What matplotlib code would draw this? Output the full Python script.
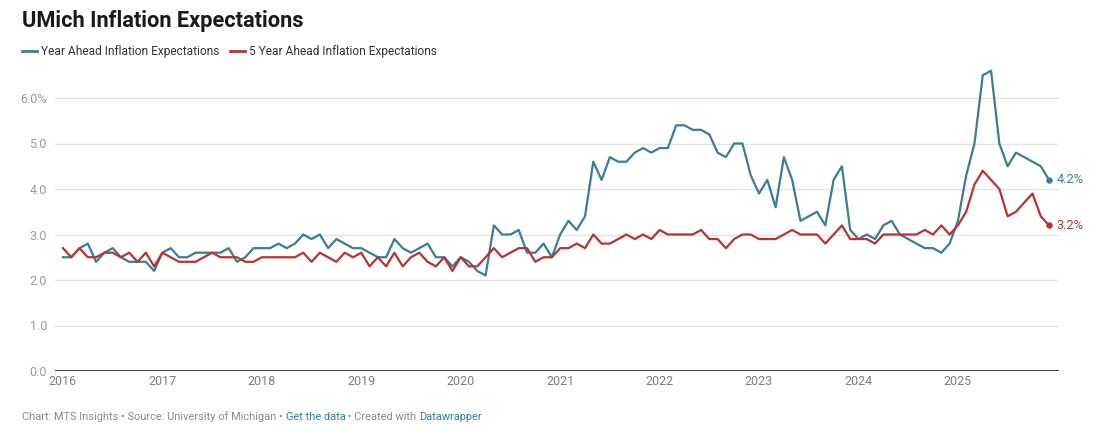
import matplotlib
matplotlib.use("Agg")
import matplotlib.pyplot as plt
from matplotlib.lines import Line2D
import numpy as np

W, H = 1102, 432

# ---------------- data ----------------
years = list(range(2016, 2026))
x_tick_labels = [str(y) for y in years]

year_ahead = [
    2.5, 2.5, 2.7, 2.8, 2.4, 2.6, 2.7, 2.5, 2.4, 2.4, 2.4, 2.2,   # 2016
    2.6, 2.7, 2.5, 2.5, 2.6, 2.6, 2.6, 2.6, 2.7, 2.4, 2.5, 2.7,   # 2017
    2.7, 2.7, 2.8, 2.7, 2.8, 3.0, 2.9, 3.0, 2.7, 2.9, 2.8, 2.7,   # 2018
    2.7, 2.6, 2.5, 2.5, 2.9, 2.7, 2.6, 2.7, 2.8, 2.5, 2.5, 2.3,   # 2019
    2.5, 2.4, 2.2, 2.1, 3.2, 3.0, 3.0, 3.1, 2.6, 2.6, 2.8, 2.5,   # 2020
    3.0, 3.3, 3.1, 3.4, 4.6, 4.2, 4.7, 4.6, 4.6, 4.8, 4.9, 4.8,   # 2021
    4.9, 4.9, 5.4, 5.4, 5.3, 5.3, 5.2, 4.8, 4.7, 5.0, 5.0, 4.3,   # 2022
    3.9, 4.2, 3.6, 4.7, 4.2, 3.3, 3.4, 3.5, 3.2, 4.2, 4.5, 3.1,   # 2023
    2.9, 3.0, 2.9, 3.2, 3.3, 3.0, 2.9, 2.8, 2.7, 2.7, 2.6, 2.8,   # 2024
    3.3, 4.3, 5.0, 6.5, 6.6, 5.0, 4.5, 4.8, 4.7, 4.6, 4.5, 4.2,   # 2025
]

five_year = [
    2.7, 2.5, 2.7, 2.5, 2.5, 2.6, 2.6, 2.5, 2.6, 2.4, 2.6, 2.3,   # 2016
    2.6, 2.5, 2.4, 2.4, 2.4, 2.5, 2.6, 2.5, 2.5, 2.5, 2.4, 2.4,   # 2017
    2.5, 2.5, 2.5, 2.5, 2.5, 2.6, 2.4, 2.6, 2.5, 2.4, 2.6, 2.5,   # 2018
    2.6, 2.3, 2.5, 2.3, 2.6, 2.3, 2.5, 2.6, 2.4, 2.3, 2.5, 2.2,   # 2019
    2.5, 2.3, 2.3, 2.5, 2.7, 2.5, 2.6, 2.7, 2.7, 2.4, 2.5, 2.5,   # 2020
    2.7, 2.7, 2.8, 2.7, 3.0, 2.8, 2.8, 2.9, 3.0, 2.9, 3.0, 2.9,   # 2021
    3.1, 3.0, 3.0, 3.0, 3.0, 3.1, 2.9, 2.9, 2.7, 2.9, 3.0, 3.0,   # 2022
    2.9, 2.9, 2.9, 3.0, 3.1, 3.0, 3.0, 3.0, 2.8, 3.0, 3.2, 2.9,   # 2023
    2.9, 2.9, 2.8, 3.0, 3.0, 3.0, 3.0, 3.0, 3.1, 3.0, 3.2, 3.0,   # 2024
    3.2, 3.5, 4.1, 4.4, 4.2, 4.0, 3.4, 3.5, 3.7, 3.9, 3.4, 3.2,   # 2025
]

series_names = ["Year Ahead Inflation Expectations",
                "5 Year Ahead Inflation Expectations"]
y_ticks = [0, 1, 2, 3, 4, 5, 6]
y_tick_labels = ["0.0", "1.0", "2.0", "3.0", "4.0", "5.0", "6.0%"]

title = "UMich Inflation Expectations"
footer_parts = ["Chart: MTS Insights \u2022 Source: University of Michigan \u2022 ",
                "Get the data", " \u2022 Created with ", "Datawrapper"]

# ---------------- style ----------------
BLUE = "#3a7d97"
RED = "#bb3230"
GRAY_TXT = "#999999"
FOOT_GRAY = "#8a8a8a"
LINK = "#2d7fa8"

plt.rcParams['font.family'] = ['Roboto', 'DejaVu Sans']

fig = plt.figure(figsize=(W / 100, H / 100), dpi=100)


def fx(px):
    return px / W


def fy(py):
    return 1 - py / H


ax_left, ax_right, ax_bottom, ax_top = 55, 1059, 371, 66
ax = fig.add_axes([fx(ax_left), fy(ax_bottom), (ax_right - ax_left) / W,
                   (ax_bottom - ax_top) / H])

months = np.arange(len(year_ahead))
colors = [BLUE, RED]
for vals, c in zip([year_ahead, five_year], colors):
    ax.plot(months, vals, color=c, lw=1.6, solid_joinstyle='round',
            clip_on=False, zorder=3)
    ax.plot(months[-1], vals[-1], 'o', color=c, ms=3.6, clip_on=False, zorder=4)
    ax.annotate(f"{vals[-1]:.1f}%", xy=(months[-1], vals[-1]),
                xytext=(5.5, 0), textcoords='offset points',
                ha='left', va='center', color=c, fontsize=9.2,
                annotation_clip=False)

ax.set_xlim(-0.96, 120.2)
ax.set_ylim(0, (ax_bottom - ax_top) / 45.5)
for s in ax.spines.values():
    s.set_visible(False)

ax.set_yticks(y_ticks, y_tick_labels)
ax.yaxis.grid(True, color='#e3e3e3', lw=1.0, zorder=0)
ax.set_axisbelow(True)
ax.axhline(0, color='#222222', lw=1.2, zorder=2)
ax.tick_params(axis='y', length=0, pad=5.8, labelsize=9, labelcolor=GRAY_TXT)

ax.set_xticks(np.arange(0, 12 * len(years), 12), x_tick_labels)
ax.tick_params(axis='x', length=0, pad=3.0, labelsize=9, labelcolor='#7d7d7d')

# title
fig.text(fx(22), fy(26.5), title, fontsize=15.7, weight='bold',
         color='#1a1a1a', va='baseline', ha='left')

# legend
lx = 22
renderer = fig.canvas.get_renderer()
for name, c in zip(series_names, colors):
    fig.add_artist(Line2D([fx(lx), fx(lx + 15)], [fy(51), fy(51)],
                          color=c, lw=2.0, transform=fig.transFigure))
    t = fig.text(fx(lx + 19), fy(55.5), name, fontsize=8.6, color='#333333',
                 va='baseline', ha='left')
    bb = t.get_window_extent(renderer=renderer)
    lx = bb.x1 + 11

# footer
fx0 = 22
for i, part in enumerate(footer_parts):
    t = fig.text(fx(fx0), fy(420), part, fontsize=7.9,
                 color=(LINK if i % 2 == 1 else FOOT_GRAY),
                 va='baseline', ha='left')
    bb = t.get_window_extent(renderer=renderer)
    fx0 = bb.x1

fig.savefig("out.png", dpi=100)
